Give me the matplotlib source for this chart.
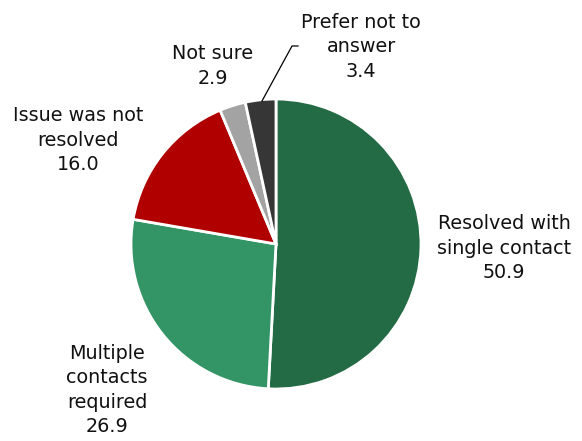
import matplotlib
matplotlib.use('Agg')
import matplotlib.pyplot as plt

# pie data, clockwise from 12 o'clock
labels = ['Resolved with\nsingle contact', 'Multiple\ncontacts\nrequired',
          'Issue was not\nresolved', 'Not sure', 'Prefer not to\nanswer']
values = [50.9, 26.9, 16.0, 2.9, 3.4]
colors = ['#236B45', '#339566', '#B00000', '#A3A3A3', '#363636']

W, H = 582, 441
fig = plt.figure(figsize=(W/100, H/100), dpi=100)
ax = fig.add_axes([0, 0, 1, 1])

cx, cy, r = 276, H - 244, 145
ax.pie(values, colors=colors, startangle=90, counterclock=False,
       center=(cx, cy), radius=r, frame=True,
       wedgeprops=dict(edgecolor='white', linewidth=2))
ax.set_xlim(0, W)
ax.set_ylim(0, H)
ax.set_aspect('equal')
ax.axis('off')

# label centres in pixel coords (top-left origin)
label_pos = [(504, 248), (107, 390), (78, 140), (213, 66), (361, 47)]
for lab, v, (x, y) in zip(labels, values, label_pos):
    ax.text(x, H - y, lab + '\n' + f'{v:.1f}', ha='center', va='center',
            fontsize=13.8, linespacing=1.36, color='#111111')

# leader line for "Prefer not to answer"
ax.plot([262, 292, 298], [H - 101, H - 46, H - 46], color='black', lw=0.9)

fig.savefig('out.png', dpi=100)
